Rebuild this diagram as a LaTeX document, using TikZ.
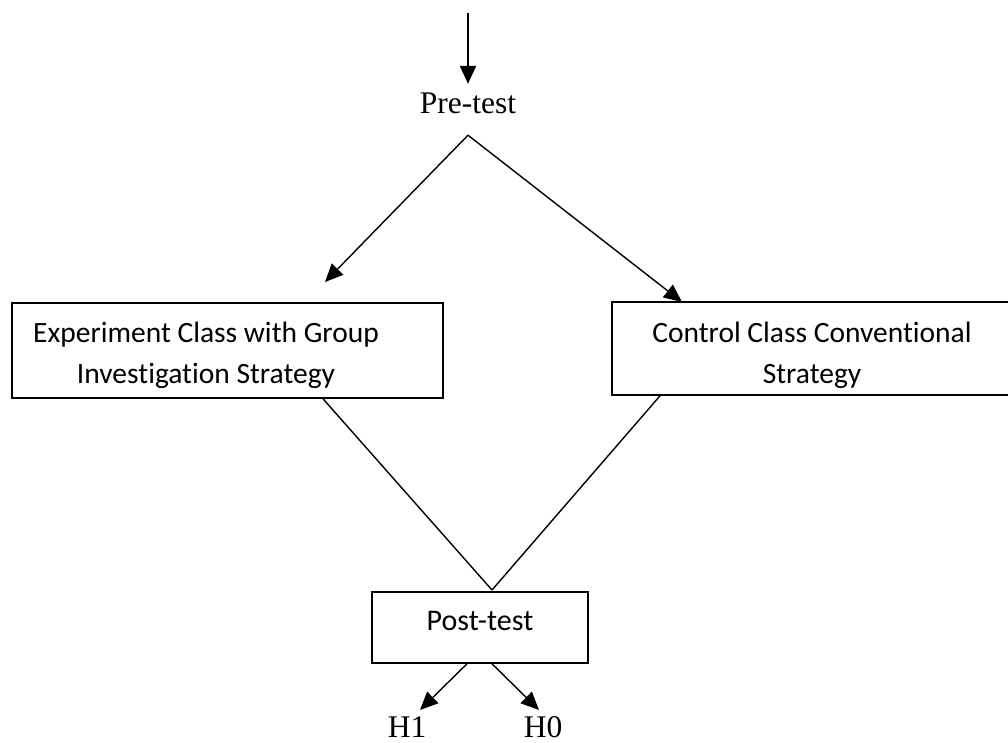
\documentclass[tikz,border=0pt]{standalone}
\usepackage{fontspec}
\setmainfont{Liberation Serif}
\newfontfamily\boxfont[Ligatures={NoCommon,NoRare,NoContextual}]{Carlito}
\usetikzlibrary{arrows.meta}
\begin{document}
\begin{tikzpicture}[x=1pt,y=-1pt,
  boxnode/.style={draw, line width=1.6pt, inner sep=0pt},
  serif/.style={font=\fontsize{31.5}{36}\selectfont, inner sep=0pt},
  sanstext/.style={font=\boxfont\fontsize{29.5}{41}\selectfont, align=center, inner sep=0pt},
  conn/.style={line width=1.4pt},
  arr/.style={conn, -{Triangle[length=18pt,width=16pt]}}]
\useasboundingbox (0,0) rectangle (1008,742);
\clip (0,0) rectangle (1008,742);
% top
\coordinate (start) at (468,13);
\node[serif, anchor=base, text height=29pt, text depth=22pt] (pre) at (468,113) {Pre-test};
\draw[arr, line width=2.2pt] (start) -- (pre.north);
% boxes
\node[boxnode, minimum width=431pt, minimum height=95pt] (exp) at (227.5,350.5) {};
\node[sanstext, anchor=base] (exptext) at (206,383) {Experiment Class with Group\\Investigation Strategy};
\node[boxnode, minimum width=400pt, minimum height=93pt] (ctrl) at (812,348.5) {};
\node[sanstext, anchor=base] (ctrltext) at (812,383) {Control Class Conventional\\Strategy};
\coordinate (expin) at (325,282);
\coordinate (ctrlin) at (682,302);
\draw[arr] (pre.south) -- (expin);
\draw[arr] (pre.south) -- (ctrlin);
% post
\node[boxnode, font=\boxfont\fontsize{30}{36}\selectfont, anchor=base, text height=38pt, text depth=33pt, minimum width=216pt] (post) at (480,630) {Post-test};
\coordinate (vtip) at (492,590);
\draw[conn] ([xshift=95.5pt]exp.south) -- (vtip);
\draw[conn] ([xshift=-152pt]ctrl.south) -- (vtip);
% hypotheses
\node[serif, anchor=base] (h1) at (407,737) {H1};
\node[serif, anchor=base] (h0) at (543,737) {H0};
\coordinate (h1in) at (420,710);
\coordinate (h0in) at (539,710);
\draw[arr] ([xshift=-13pt]post.south) -- (h1in);
\draw[arr] ([xshift=12pt]post.south) -- (h0in);
\end{tikzpicture}
\end{document}
